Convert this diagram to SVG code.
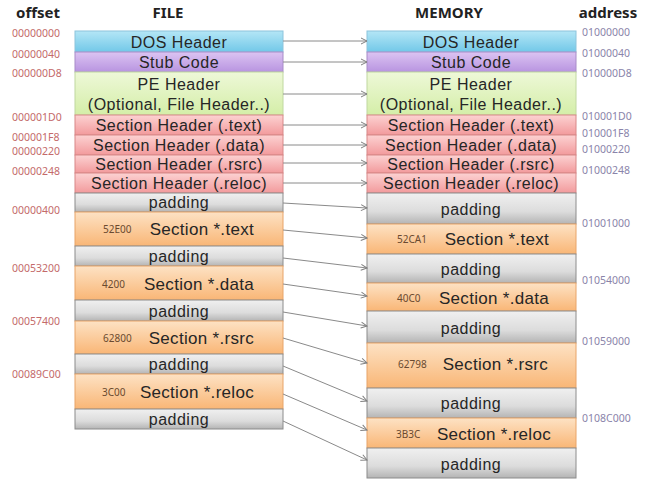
<svg xmlns="http://www.w3.org/2000/svg" width="652" height="479" viewBox="0 0 652 479">
<defs>
<linearGradient id="gBlue" x1="0" y1="0" x2="0" y2="1"><stop offset="0" stop-color="#b4e6f6"/><stop offset="1" stop-color="#72c8e8"/></linearGradient>
<linearGradient id="gPurple" x1="0" y1="0" x2="0" y2="1"><stop offset="0" stop-color="#dcc4f2"/><stop offset="1" stop-color="#b894e0"/></linearGradient>
<linearGradient id="gGreen" x1="0" y1="0" x2="0" y2="1"><stop offset="0" stop-color="#eef8d8"/><stop offset="1" stop-color="#d4eea8"/></linearGradient>
<linearGradient id="gPink" x1="0" y1="0" x2="0" y2="1"><stop offset="0" stop-color="#fcd2d2"/><stop offset="1" stop-color="#f29a9c"/></linearGradient>
<linearGradient id="gGray" x1="0" y1="0" x2="0" y2="1"><stop offset="0" stop-color="#f0f0f0"/><stop offset="0.6" stop-color="#dcdcdc"/><stop offset="1" stop-color="#b4b4b4"/></linearGradient>
<linearGradient id="gOrange" x1="0" y1="0" x2="0" y2="1"><stop offset="0" stop-color="#fde2c4"/><stop offset="1" stop-color="#f9b676"/></linearGradient>
<marker id="arr" markerWidth="8" markerHeight="8" refX="7" refY="4" orient="auto" markerUnits="userSpaceOnUse"><path d="M1,1 L7,4 L1,7" fill="none" stroke="#808080" stroke-width="1"/></marker>
</defs>
<style>
.blue{fill:url(#gBlue);stroke:#8cc4dc;stroke-width:1}
.purple{fill:url(#gPurple);stroke:#a88cc8;stroke-width:1}
.green{fill:url(#gGreen);stroke:#c0d8a0;stroke-width:1}
.pink{fill:url(#gPink);stroke:#d88888;stroke-width:1}
.gray{fill:url(#gGray);stroke:#8c8c8c;stroke-width:1}
.orange{fill:url(#gOrange);stroke:#e8a468;stroke-width:1}
.t{font-family:"Liberation Sans",Arial,sans-serif;font-size:16px;letter-spacing:0.5px;fill:#262626;text-anchor:middle}
.tr{font-family:"Liberation Sans",Arial,sans-serif;font-size:17px;letter-spacing:0.3px;fill:#262626;text-anchor:end}
.sz{font-family:"Noto Sans","DejaVu Sans",sans-serif;font-size:10px;fill:#6a4a30;text-anchor:start}
.off{font-family:"Noto Sans","DejaVu Sans",sans-serif;font-size:10.5px;fill:#c46a6a}
.adr{font-family:"Noto Sans","DejaVu Sans",sans-serif;font-size:10.5px;fill:#8a84aa}
.hd{font-family:"Noto Sans","DejaVu Sans",sans-serif;font-size:15px;font-weight:bold;fill:#222;text-anchor:middle}
.c{fill:none;stroke:#8a8a8a;stroke-width:1;marker-end:url(#arr)}
</style>
<rect width="652" height="479" fill="#ffffff"/>
<g id="titles">
<text class="hd" x="38" y="18">offset</text>
<text class="hd" x="168" y="18">FILE</text>
<text class="hd" x="449" y="18">MEMORY</text>
<text class="hd" x="608" y="18">address</text>
</g>
<g id="offsets">
<text class="off" x="12" y="37">00000000</text>
<text class="off" x="12" y="58">00000040</text>
<text class="off" x="12" y="77">000000D8</text>
<text class="off" x="12" y="121">000001D0</text>
<text class="off" x="12" y="141">000001F8</text>
<text class="off" x="12" y="155">00000220</text>
<text class="off" x="12" y="175">00000248</text>
<text class="off" x="12" y="214">00000400</text>
<text class="off" x="12" y="272">00053200</text>
<text class="off" x="12" y="325">00057400</text>
<text class="off" x="12" y="378">00089C00</text>
</g>
<g id="addresses">
<text class="adr" x="582" y="36">01000000</text>
<text class="adr" x="582" y="57">01000040</text>
<text class="adr" x="582" y="77">010000D8</text>
<text class="adr" x="582" y="120">010001D0</text>
<text class="adr" x="582" y="137">010001F8</text>
<text class="adr" x="582" y="153">01000220</text>
<text class="adr" x="582" y="174">01000248</text>
<text class="adr" x="582" y="227">01001000</text>
<text class="adr" x="582" y="284">01054000</text>
<text class="adr" x="582" y="345">01059000</text>
<text class="adr" x="582" y="422">0108C000</text>
</g>
<g id="file">
<g id="f-dos"><rect class="blue" x="75" y="31" width="208" height="21"/><text class="t" x="179" y="47.5">DOS Header</text></g>
<g id="f-stub"><rect class="purple" x="75" y="52" width="208" height="20"/><text class="t" x="179" y="67.5">Stub Code</text></g>
<g id="f-pe"><rect class="green" x="75" y="72" width="208" height="43"/><text class="t" x="179" y="90">PE Header</text><text class="t" x="179" y="109.5">(Optional, File Header..)</text></g>
<g id="f-sht"><rect class="pink" x="75" y="115" width="208" height="20"/><text class="t" x="179" y="130.5">Section Header (.text)</text></g>
<g id="f-shd"><rect class="pink" x="75" y="135" width="208" height="20"/><text class="t" x="179" y="150.5">Section Header (.data)</text></g>
<g id="f-shr"><rect class="pink" x="75" y="155" width="208" height="18"/><text class="t" x="179" y="169.5">Section Header (.rsrc)</text></g>
<g id="f-shl"><rect class="pink" x="75" y="173" width="208" height="20"/><text class="t" x="179" y="188.5">Section Header (.reloc)</text></g>
<g id="f-pad0"><rect class="gray" x="75" y="193" width="208" height="19"/><text class="t" x="179" y="208">padding</text></g>
<g id="f-text"><rect class="orange" x="75" y="212" width="208" height="34"/><text class="sz" x="103" y="233">52E00</text><text class="tr" x="254" y="235">Section *.text</text></g>
<g id="f-pad1"><rect class="gray" x="75" y="246" width="208" height="20"/><text class="t" x="179" y="261.5">padding</text></g>
<g id="f-data"><rect class="orange" x="75" y="266" width="208" height="34"/><text class="sz" x="102" y="288">4200</text><text class="tr" x="254" y="290">Section *.data</text></g>
<g id="f-pad2"><rect class="gray" x="75" y="300" width="208" height="21"/><text class="t" x="179" y="316.5">padding</text></g>
<g id="f-rsrc"><rect class="orange" x="75" y="321" width="208" height="33"/><text class="sz" x="103" y="342">62800</text><text class="tr" x="254" y="344">Section *.rsrc</text></g>
<g id="f-pad3"><rect class="gray" x="75" y="354" width="208" height="20"/><text class="t" x="179" y="369.5">padding</text></g>
<g id="f-reloc"><rect class="orange" x="75" y="374" width="208" height="35"/><text class="sz" x="102" y="396">3C00</text><text class="tr" x="254" y="398">Section *.reloc</text></g>
<g id="f-pad4"><rect class="gray" x="75" y="409" width="208" height="20"/><text class="t" x="179" y="424.5">padding</text></g>
</g>
<g id="memory">
<g id="m-dos"><rect class="blue" x="367" y="31" width="209" height="21"/><text class="t" x="471" y="47.5">DOS Header</text></g>
<g id="m-stub"><rect class="purple" x="367" y="52" width="209" height="20"/><text class="t" x="471" y="67.5">Stub Code</text></g>
<g id="m-pe"><rect class="green" x="367" y="72" width="209" height="43"/><text class="t" x="471" y="90">PE Header</text><text class="t" x="471" y="109.5">(Optional, File Header..)</text></g>
<g id="m-sht"><rect class="pink" x="367" y="115" width="209" height="20"/><text class="t" x="471" y="130.5">Section Header (.text)</text></g>
<g id="m-shd"><rect class="pink" x="367" y="135" width="209" height="20"/><text class="t" x="471" y="150.5">Section Header (.data)</text></g>
<g id="m-shr"><rect class="pink" x="367" y="155" width="209" height="18"/><text class="t" x="471" y="169.5">Section Header (.rsrc)</text></g>
<g id="m-shl"><rect class="pink" x="367" y="173" width="209" height="20"/><text class="t" x="471" y="188.5">Section Header (.reloc)</text></g>
<g id="m-pad0"><rect class="gray" x="367" y="193" width="209" height="31"/><text class="t" x="471" y="214.5">padding</text></g>
<g id="m-text"><rect class="orange" x="367" y="224" width="209" height="30"/><text class="sz" x="397" y="243">52CA1</text><text class="tr" x="549" y="245">Section *.text</text></g>
<g id="m-pad1"><rect class="gray" x="367" y="254" width="209" height="29"/><text class="t" x="471" y="274.5">padding</text></g>
<g id="m-data"><rect class="orange" x="367" y="283" width="209" height="28"/><text class="sz" x="397" y="302">40C0</text><text class="tr" x="549" y="304">Section *.data</text></g>
<g id="m-pad2"><rect class="gray" x="367" y="311" width="209" height="32"/><text class="t" x="471" y="333.5">padding</text></g>
<g id="m-rsrc"><rect class="orange" x="367" y="343" width="209" height="45"/><text class="sz" x="398" y="368">62798</text><text class="tr" x="548" y="370">Section *.rsrc</text></g>
<g id="m-pad3"><rect class="gray" x="367" y="388" width="209" height="30"/><text class="t" x="471" y="408.5">padding</text></g>
<g id="m-reloc"><rect class="orange" x="367" y="418" width="209" height="30"/><text class="sz" x="396" y="438">3B3C</text><text class="tr" x="551" y="440">Section *.reloc</text></g>
<g id="m-pad4"><rect class="gray" x="367" y="448" width="209" height="30"/><text class="t" x="471" y="469.5">padding</text></g>
</g>
<g id="connectors">
<line class="c" x1="283" y1="41" x2="367" y2="41"/>
<line class="c" x1="283" y1="62" x2="367" y2="62"/>
<line class="c" x1="283" y1="94" x2="367" y2="94"/>
<line class="c" x1="283" y1="125" x2="367" y2="125"/>
<line class="c" x1="283" y1="145" x2="367" y2="145"/>
<line class="c" x1="283" y1="163" x2="367" y2="163"/>
<line class="c" x1="283" y1="183" x2="367" y2="183"/>
<line class="c" x1="283" y1="203" x2="367" y2="208"/>
<line class="c" x1="283" y1="230" x2="367" y2="238"/>
<line class="c" x1="283" y1="258" x2="367" y2="268"/>
<line class="c" x1="283" y1="284" x2="367" y2="296"/>
<line class="c" x1="283" y1="312" x2="367" y2="326"/>
<line class="c" x1="283" y1="338" x2="367" y2="363"/>
<line class="c" x1="283" y1="366" x2="367" y2="401"/>
<line class="c" x1="283" y1="394" x2="367" y2="430"/>
<line class="c" x1="283" y1="421" x2="367" y2="460"/>
</g>
</svg>
